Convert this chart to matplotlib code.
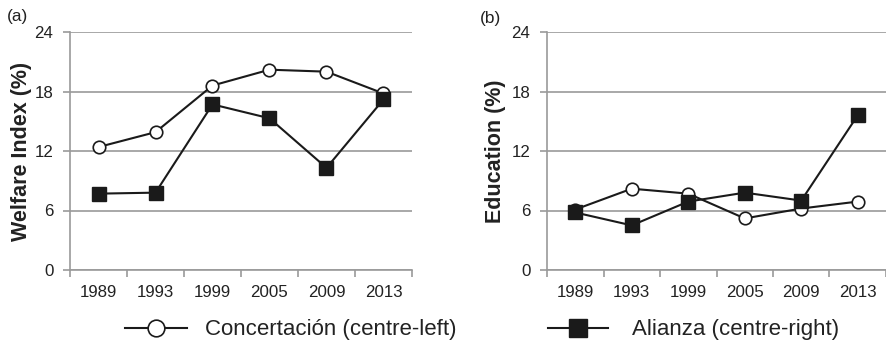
import matplotlib.pyplot as plt
from matplotlib.lines import Line2D
from matplotlib.ticker import FixedLocator

plt.rcParams['font.family'] = ['Liberation Sans', 'DejaVu Sans']

# Años de elección y series por coalición
years = ['1989', '1993', '1999', '2005', '2009', '2013']
welfare_concertacion = [12.4, 13.9, 18.6, 20.2, 20.0, 17.8]
welfare_alianza = [7.7, 7.8, 16.7, 15.3, 10.3, 17.2]
education_concertacion = [6.1, 8.2, 7.7, 5.2, 6.2, 6.9]
education_alianza = [5.8, 4.5, 6.9, 7.8, 7.0, 15.6]

grey = '#9a9a9a'
ink = '#1a1a1a'
text_col = '#222222'

fig = plt.figure(figsize=(8.87, 3.47), dpi=100)
ax_a = fig.add_axes([70 / 887, 77 / 347, 342 / 887, 238 / 347])
ax_b = fig.add_axes([547 / 887, 77 / 347, 339 / 887, 238 / 347])


def draw_panel(ax, left, right, ylabel, label_x):
    x = range(len(years))
    ax.plot(x, left, color=ink, lw=1.5, marker='o', ms=9,
            mfc='white', mec=ink, mew=1.2, zorder=3)
    ax.plot(x, right, color=ink, lw=1.5, marker='s', ms=9.6,
            mfc=ink, mec=ink, zorder=4)
    ax.set_xlim(-0.5, len(years) - 0.5)
    ax.set_ylim(0, 24)
    ax.set_yticks([0, 6, 12, 18, 24])
    ax.yaxis.grid(True, color=grey, lw=1.2)
    ax.set_axisbelow(True)
    # marcas en los bordes de cada categoría, etiquetas en el centro
    ax.xaxis.set_major_locator(FixedLocator([i - 0.5 for i in range(len(years) + 1)]))
    ax.xaxis.set_minor_locator(FixedLocator(list(x)))
    ax.set_xticklabels([])
    ax.set_xticklabels(years, minor=True)
    ax.tick_params(axis='x', which='major', length=5, width=1.2, color=grey)
    ax.tick_params(axis='x', which='minor', length=0, pad=11, labelsize=12.2, labelcolor=text_col)
    ax.tick_params(axis='y', length=5, width=1.2, color=grey, pad=7,
                   labelsize=12.2, labelcolor=text_col)
    for side in ['top', 'right']:
        ax.spines[side].set_visible(False)
    for side in ['left', 'bottom']:
        ax.spines[side].set_color(grey)
        ax.spines[side].set_linewidth(1.2)
    ax.set_ylabel(ylabel, fontsize=15.5, fontweight='bold', color=text_col)
    ax.yaxis.set_label_coords(label_x, 0.5)


draw_panel(ax_a, welfare_concertacion, welfare_alianza, 'Welfare Index (%)', -0.111)
draw_panel(ax_b, education_concertacion, education_alianza, 'Education (%)', -0.121)

fig.text(7 / 887, 1 - 17 / 347, '(a)', fontsize=12.4, color=text_col, va='center')
fig.text(480 / 887, 1 - 18 / 347, '(b)', fontsize=12.4, color=text_col, va='center')

# leyenda común debajo de los dos paneles
h_conc = Line2D([], [], color=ink, lw=1.5, marker='o', ms=12, mfc='white', mec=ink, mew=1.2)
h_ali = Line2D([], [], color=ink, lw=1.5, marker='s', ms=13, mfc=ink, mec=ink)
leg_y = 1 - 330 / 347
leg1 = fig.legend([h_conc], ['Concertación (centre-left)'], loc='center left',
                  bbox_to_anchor=(125 / 887, leg_y), frameon=False, fontsize=16,
                  handlelength=2.8, handletextpad=0.8, borderpad=0, borderaxespad=0,
                  labelcolor=text_col)
fig.legend([h_ali], ['Alianza (centre-right)'], loc='center left',
           bbox_to_anchor=(548 / 887, leg_y), frameon=False, fontsize=16,
           handlelength=2.7, handletextpad=1.1, borderpad=0, borderaxespad=0,
           labelcolor=text_col)

fig.savefig('out.png', dpi=100)
